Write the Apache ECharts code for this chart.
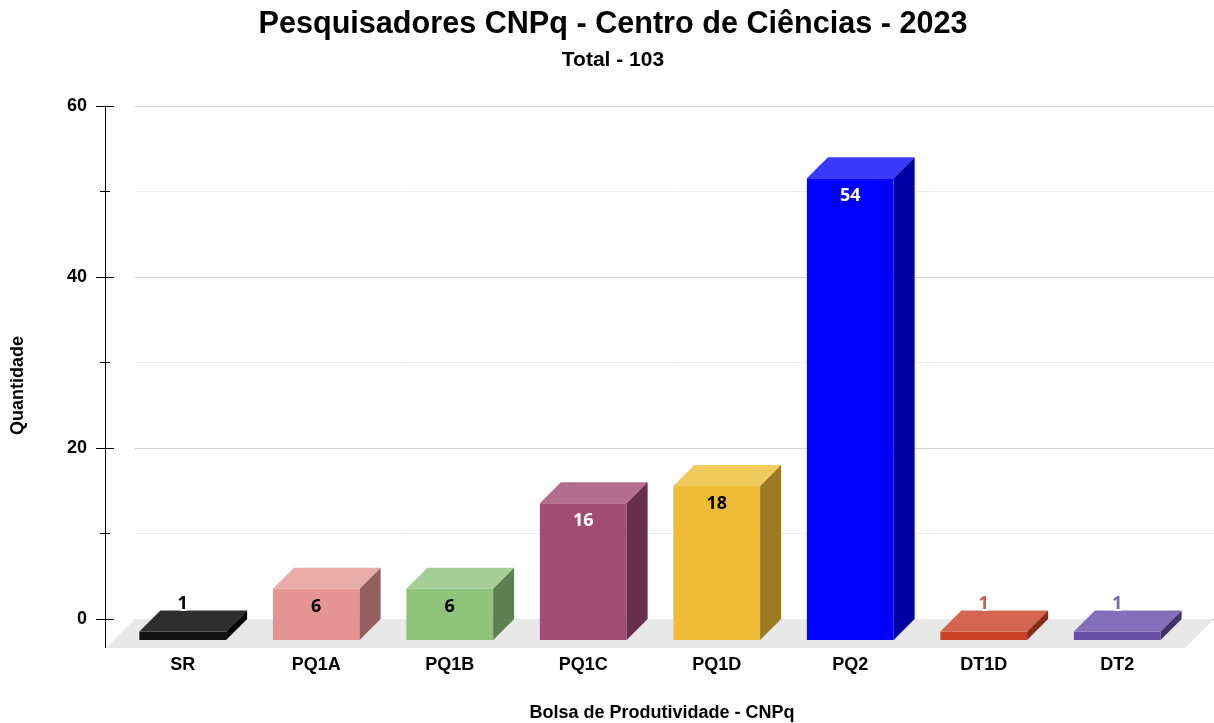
<!DOCTYPE html>
<html>
<head>
<meta charset="utf-8">
<script src="https://cdn.jsdelivr.net/npm/echarts@6/dist/echarts.min.js"></script>
<style>
  html, body { margin: 0; padding: 0; background: #fff; }
  #chart { width: 1214px; height: 723px; }
</style>
</head>
<body>
<div id="chart"></div>
<script>
// dados
var categories = ['SR', 'PQ1A', 'PQ1B', 'PQ1C', 'PQ1D', 'PQ2', 'DT1D', 'DT2'];
var values = [1, 6, 6, 16, 18, 54, 1, 1];
var yTicks = [0, 20, 40, 60];

// cores: frente, topo, lateral
var frontColors = ['#111111', '#e59393', '#90c47c', '#a24b73', '#eebd35', '#0000fe', '#c8432a', '#6a4fa6'];
var topColors   = ['#2e2e2e', '#eaabab', '#a4ce95', '#b36d8d', '#efca5c', '#3a3aff', '#d4654f', '#8470ba'];
var sideColors  = ['#000000', '#955f5f', '#5e7f51', '#66304a', '#9b7a22', '#0000a5', '#892c1b', '#43336b'];
var labelColors = ['#000000', '#000000', '#000000', '#ffffff', '#000000', '#ffffff', '#d35a3f', '#7a64b8'];

var axisFont = { color: '#000', fontWeight: 'bold', fontSize: 18, fontFamily: 'Liberation Sans, Arial, sans-serif' };
var depth = 21;
var floorDepth = 29;

var myChart = echarts.init(document.getElementById('chart'));

function renderFloor(params, api) {
    var cs = params.coordSys;
    var by = cs.y + cs.height;
    return {
        type: 'group',
        children: [
            {
                type: 'polygon',
                shape: { points: [[cs.x, by], [cs.x + cs.width, by], [cs.x + cs.width - floorDepth, by + floorDepth], [cs.x - floorDepth, by + floorDepth]] },
                style: { fill: '#e8e8e8' }
            },
            {
                type: 'line',
                shape: { x1: cs.x - 30 + 0.5, y1: by, x2: cs.x - 30 + 0.5, y2: by + floorDepth },
                style: { stroke: '#000', lineWidth: 1 }
            }
        ]
    };
}

function renderBar(params, api) {
    var i = api.value(0);
    var v = api.value(1);
    var p0 = api.coord([i, 0]);
    var p1 = api.coord([i, v]);
    var w = api.size([1, 0])[0] * 0.65;
    var xl = p0[0] - depth - w / 2;
    var xr = xl + w;
    var yb = p0[1] + depth;
    var yt = p1[1] + depth;
    var inside = (yb - yt) > 30;
    var label = {
        type: 'text',
        z2: 10,
        style: {
            text: String(values[i]),
            x: xl + w / 2,
            y: inside ? yt + 18 : yt - depth - 7,
            align: 'center',
            verticalAlign: 'middle',
            fill: labelColors[i],
            font: 'bold 18px "Noto Sans", "Open Sans", sans-serif',
            stroke: inside ? null : '#fff',
            lineWidth: inside ? 0 : 4
        }
    };
    return {
        type: 'group',
        children: [
            { type: 'rect', shape: { x: xl, y: yt, width: w, height: yb - yt }, style: { fill: frontColors[i] } },
            { type: 'polygon', shape: { points: [[xl, yt], [xr, yt], [xr + depth, yt - depth], [xl + depth, yt - depth]] }, style: { fill: topColors[i] } },
            { type: 'polygon', shape: { points: [[xr, yt], [xr, yb], [xr + depth, yb - depth], [xr + depth, yt - depth]] }, style: { fill: sideColors[i] } },
            label
        ]
    };
}

var option = {
    title: {
        text: 'Pesquisadores CNPq - Centro de Ciências - 2023',
        subtext: 'Total - 103',
        left: 608,
        textAlign: 'center',
        top: 4,
        itemGap: 10,
        textStyle: { color: '#000', fontWeight: 'bold', fontSize: 30.6, fontFamily: 'Liberation Sans, Arial, sans-serif' },
        subtextStyle: { color: '#000', fontWeight: 'bold', fontSize: 21, fontFamily: 'Liberation Sans, Arial, sans-serif' }
    },
    grid: [
        { left: 135, right: 0, top: 106, bottom: 104, outerBoundsMode: 'none' },
        { left: 137, right: 9, top: 106, bottom: 104, outerBoundsMode: 'none' }
    ],
    xAxis: [
        {
            gridIndex: 0, type: 'category', data: [''],
            axisLine: { lineStyle: { color: '#333', width: 1 } },
            axisTick: { show: false }, axisLabel: { show: false }, splitLine: { show: false }
        },
        {
            gridIndex: 1, type: 'category', data: categories,
            axisLine: { show: false }, axisTick: { show: false },
            axisLabel: Object.assign({ margin: 37, padding: [0, 42, 0, 0] }, axisFont),
            name: 'Bolsa de Produtividade - CNPq',
            nameLocation: 'middle',
            nameGap: 85,
            nameTextStyle: Object.assign({ padding: [0, 18, 0, 0] }, axisFont)
        }
    ],
    yAxis: [
        {
            gridIndex: 0, type: 'value', min: 0, max: 60, interval: 20,
            position: 'left', offset: 30,
            axisLine: { show: true, lineStyle: { color: '#000', width: 1 } },
            axisTick: { show: true, length: 9, lineStyle: { color: '#000' } },
            minorTick: { show: true, splitNumber: 2, length: 5, lineStyle: { color: '#000' } },
            splitLine: { lineStyle: { color: '#d0d0d0' } },
            minorSplitLine: { show: true, lineStyle: { color: '#ececec' } },
            axisLabel: Object.assign({ margin: 18, formatter: function (v) { return yTicks.indexOf(v) >= 0 ? v : ''; } }, axisFont),
            name: 'Quantidade',
            nameLocation: 'middle',
            nameGap: 78,
            nameTextStyle: Object.assign({ padding: [0, 46, 0, 0] }, axisFont)
        },
        {
            gridIndex: 1, type: 'value', min: 0, max: 60, show: false
        },
        {
            gridIndex: 0, type: 'value', min: 0, max: 60, interval: 20,
            position: 'left', offset: 30,
            axisLine: { show: false },
            axisTick: { show: true, inside: true, length: 9, lineStyle: { color: '#000' } },
            splitLine: { show: false },
            axisLabel: { show: false }
        },
        {
            gridIndex: 0, type: 'value', min: 0, max: 60, interval: 10,
            position: 'left', offset: 30,
            axisLine: { show: false },
            axisTick: { show: true, inside: true, length: 5, lineStyle: { color: '#000' } },
            splitLine: { show: false },
            axisLabel: { show: false }
        }
    ],
    series: [
        {
            type: 'custom',
            xAxisIndex: 0, yAxisIndex: 0,
            silent: true,
            clip: false,
            renderItem: renderFloor,
            data: [[0, 0]]
        },
        {
            type: 'custom',
            xAxisIndex: 1, yAxisIndex: 1,
            clip: false,
            renderItem: renderBar,
            encode: { x: 0, y: 1 },
            data: values.map(function (v, i) { return [i, v]; })
        }
    ]
};

myChart.setOption(option);
</script>
</body>
</html>
